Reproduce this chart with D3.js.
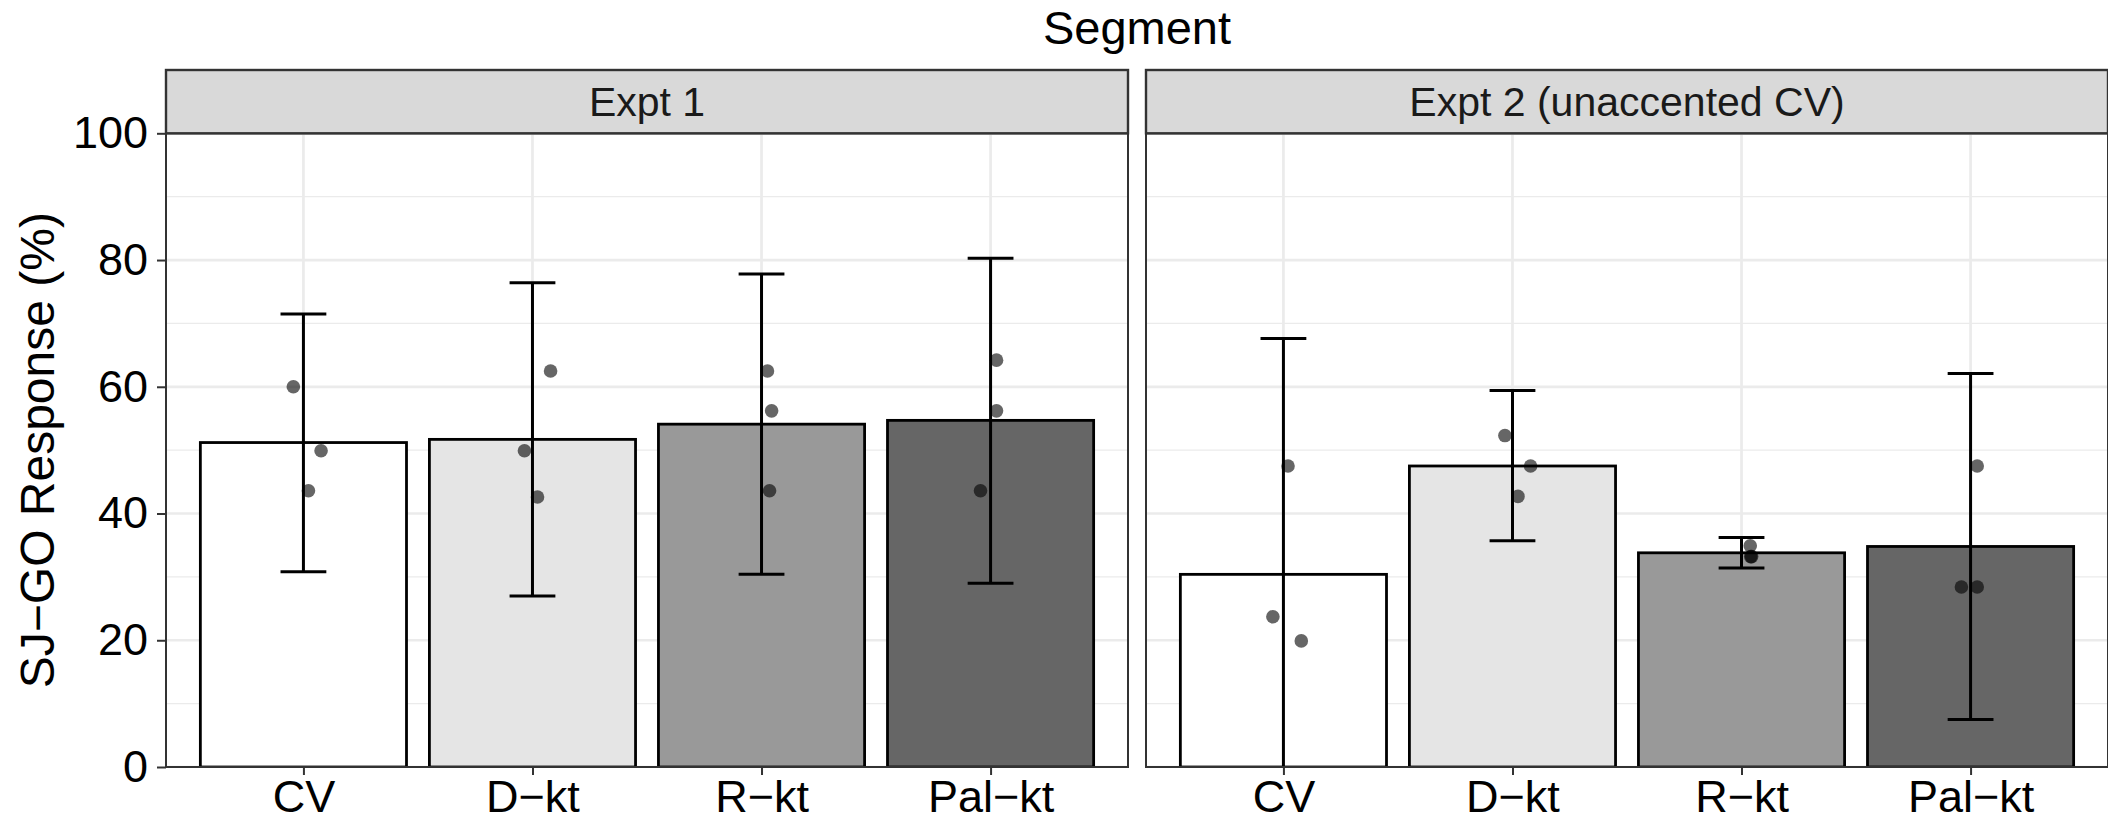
<!DOCTYPE html>
<html>
<head>
<meta charset="utf-8">
<script src="https://cdn.jsdelivr.net/npm/d3@7"></script>
<style>
  body { margin: 0; background: #fff; }
  text { font-family: "Liberation Sans", Arial, Helvetica, sans-serif; }
</style>
</head>
<body>
<svg width="2108" height="822"></svg>
<script>
// data
var categories = ["CV", "D\u2212kt", "R\u2212kt", "Pal\u2212kt"];
var panels = ["Expt 1", "Expt 2 (unaccented CV)"];
var fills = ["#ffffff", "#e5e5e5", "#999999", "#666666"];

var meanExpt1 = [51.2, 51.7, 54.1, 54.7];
var upperExpt1 = [71.5, 76.4, 77.8, 80.3];
var lowerExpt1 = [30.8, 27.0, 30.4, 29.0];
var pointsExpt1 = [[60.0, 49.9, 43.6], [62.5, 49.9, 42.6], [62.5, 56.2, 43.6], [64.2, 56.2, 43.6]];
var jitterExpt1 = [[-0.044, 0.077, 0.022], [0.079, -0.035, 0.022], [0.026, 0.044, 0.035], [0.026, 0.026, -0.044]];

var meanExpt2 = [30.4, 47.5, 33.8, 34.8];
var upperExpt2 = [67.6, 59.4, 36.2, 62.1];
var lowerExpt2 = [-6.8, 35.7, 31.4, 7.5];
var pointsExpt2 = [[47.5, 23.7, 19.9], [52.3, 47.5, 42.7], [34.9, 33.2, 33.2], [47.5, 28.4, 28.4]];
var jitterExpt2 = [[0.02, -0.046, 0.078], [-0.033, 0.079, 0.024], [0.038, 0.044, 0.04], [0.029, -0.04, 0.029]];

var yTicks = [0, 20, 40, 60, 80, 100];
var yMinor = [10, 30, 50, 70, 90];

var svg = d3.select("svg");
var left = 166, panelTop = 133.3, panelBottom = 767, gap = 18,
    panelW = (2108 - left - gap) / 2,
    stripTop = 70;

var y = d3.scaleLinear().domain([0, 100]).range([panelBottom, panelTop]);
var x = d3.scalePoint().domain(categories).range([0, panelW]).padding(0.6);
var step = x.step();

var panelData = [
  {name: panels[0], mean: meanExpt1, upper: upperExpt1, lower: lowerExpt1, pts: pointsExpt1, jit: jitterExpt1},
  {name: panels[1], mean: meanExpt2, upper: upperExpt2, lower: lowerExpt2, pts: pointsExpt2, jit: jitterExpt2}
];

// title on top
svg.append("text")
    .attr("x", left + (2108 - left) / 2)
    .attr("y", 44)
    .attr("text-anchor", "middle")
    .style("font-size", "47px")
    .text("Segment");

// y axis title
svg.append("text")
    .attr("transform", "translate(54," + ((panelTop + panelBottom) / 2) + ") rotate(-90)")
    .attr("text-anchor", "middle")
    .style("font-size", "48px")
    .text("SJ\u2212GO Response (%)");

svg.append("defs").selectAll("clipPath")
  .data(panelData)
  .enter().append("clipPath")
    .attr("id", function(d, i) { return "clip" + i; })
  .append("rect")
    .attr("x", 0).attr("y", panelTop)
    .attr("width", panelW).attr("height", panelBottom - panelTop);

panelData.forEach(function(p, pi) {
  var g = svg.append("g")
      .attr("transform", "translate(" + (left + pi * (panelW + gap)) + ",0)");

  var inner = g.append("g").attr("clip-path", "url(#clip" + pi + ")");

  // grid
  inner.selectAll(".minor").data(yMinor).enter().append("line")
      .attr("x1", 0).attr("x2", panelW)
      .attr("y1", function(d) { return y(d); }).attr("y2", function(d) { return y(d); })
      .attr("stroke", "#ebebeb").attr("stroke-width", 1.4);
  inner.selectAll(".major").data(yTicks).enter().append("line")
      .attr("x1", 0).attr("x2", panelW)
      .attr("y1", function(d) { return y(d); }).attr("y2", function(d) { return y(d); })
      .attr("stroke", "#ebebeb").attr("stroke-width", 2.7);
  inner.selectAll(".vgrid").data(categories).enter().append("line")
      .attr("x1", function(d) { return x(d); }).attr("x2", function(d) { return x(d); })
      .attr("y1", panelTop).attr("y2", panelBottom)
      .attr("stroke", "#ebebeb").attr("stroke-width", 2.7);

  // bars
  inner.selectAll(".bar").data(categories).enter().append("rect")
      .attr("x", function(d) { return x(d) - step * 0.45; })
      .attr("y", function(d, i) { return y(p.mean[i]); })
      .attr("width", step * 0.9)
      .attr("height", function(d, i) { return y(0) - y(p.mean[i]); })
      .attr("fill", function(d, i) { return fills[i]; })
      .attr("stroke", "#000").attr("stroke-width", 2.8);

  // points
  categories.forEach(function(c, ci) {
    inner.selectAll(".pt" + ci).data(p.pts[ci]).enter().append("circle")
        .attr("cx", function(d, k) { return x(c) + p.jit[ci][k] * step; })
        .attr("cy", function(d) { return y(d); })
        .attr("r", 6.8)
        .attr("fill", "#000").attr("fill-opacity", 0.6);
  });

  // error bars
  var eb = inner.selectAll(".eb").data(categories).enter().append("g")
      .attr("stroke", "#000").attr("stroke-width", 3);
  eb.append("line")
      .attr("x1", function(d) { return x(d); }).attr("x2", function(d) { return x(d); })
      .attr("y1", function(d, i) { return y(p.upper[i]); })
      .attr("y2", function(d, i) { return y(p.lower[i]); });
  eb.append("line")
      .attr("x1", function(d) { return x(d) - step * 0.1; }).attr("x2", function(d) { return x(d) + step * 0.1; })
      .attr("y1", function(d, i) { return y(p.upper[i]); })
      .attr("y2", function(d, i) { return y(p.upper[i]); });
  eb.append("line")
      .attr("x1", function(d) { return x(d) - step * 0.1; }).attr("x2", function(d) { return x(d) + step * 0.1; })
      .attr("y1", function(d, i) { return y(p.lower[i]); })
      .attr("y2", function(d, i) { return y(p.lower[i]); });

  // panel border
  g.append("rect")
      .attr("x", 0).attr("y", panelTop)
      .attr("width", panelW).attr("height", panelBottom - panelTop)
      .attr("fill", "none").attr("stroke", "#333").attr("stroke-width", 2);

  // strip
  g.append("rect")
      .attr("x", 0).attr("y", stripTop)
      .attr("width", panelW).attr("height", panelTop - stripTop)
      .attr("fill", "#d9d9d9").attr("stroke", "#333").attr("stroke-width", 2.4);
  g.append("text")
      .attr("x", panelW / 2).attr("y", 116)
      .attr("text-anchor", "middle")
      .attr("fill", "#1a1a1a")
      .style("font-size", "41px")
      .text(p.name);

  // x axis
  var xa = g.append("g")
      .attr("transform", "translate(0," + panelBottom + ")")
      .call(d3.axisBottom(x).tickSize(8).tickPadding(5));
  xa.select(".domain").remove();
  xa.selectAll("line").attr("stroke", "#333").attr("stroke-width", 2);
  xa.selectAll("text").attr("fill", "#000").style("font-size", "45px")
      .style("font-family", "'Liberation Sans', Arial, sans-serif");

  if (pi === 0) {
    var ya = g.append("g")
        .call(d3.axisLeft(y).tickValues(yTicks).tickSize(9).tickPadding(9));
    ya.select(".domain").remove();
    ya.selectAll("line").attr("stroke", "#333").attr("stroke-width", 2);
    ya.selectAll("text").attr("fill", "#000").style("font-size", "45px")
        .style("font-family", "'Liberation Sans', Arial, sans-serif");
  }
});
</script>
</body>
</html>
